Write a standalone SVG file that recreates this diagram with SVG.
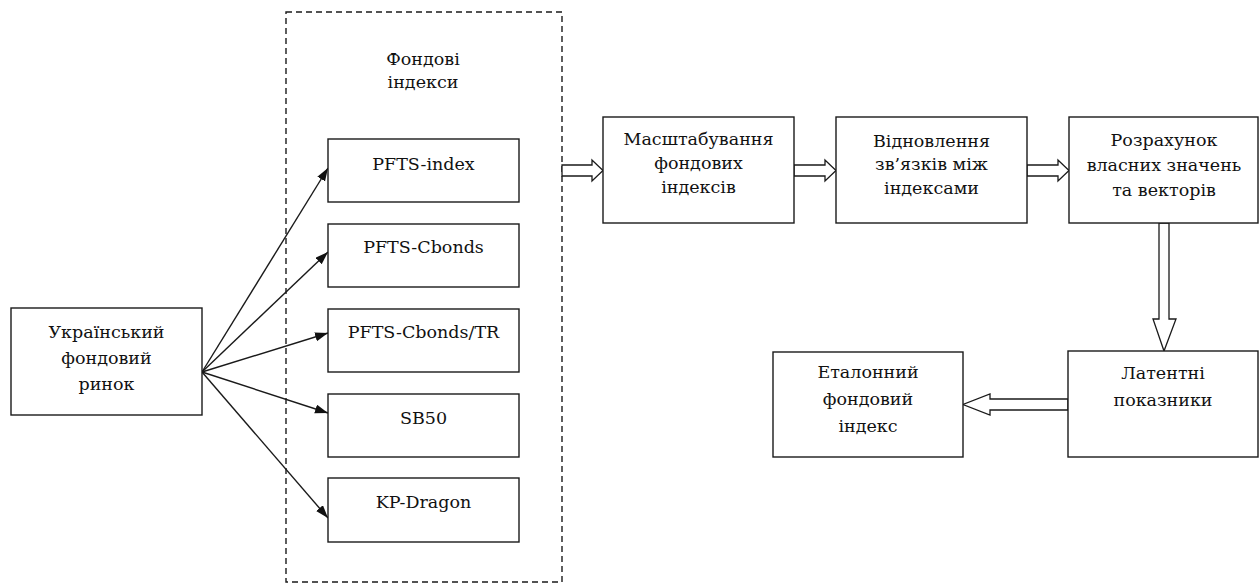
<svg xmlns="http://www.w3.org/2000/svg" width="1259" height="585" viewBox="0 0 1259 585">
<style>
.box{fill:#fff;stroke:#1a1a1a;stroke-width:1.4}
.grp{fill:none;stroke:#1a1a1a;stroke-width:1.4;stroke-dasharray:6,4}
.t{font-family:'DejaVu Serif',serif;font-size:17.5px;fill:#111;text-anchor:middle}
.ln{fill:none;stroke:#1a1a1a;stroke-width:1.4}
.blk{fill:#fff;stroke:#1a1a1a;stroke-width:1.3;stroke-linejoin:miter}
</style>
<defs>
<marker id="ah" markerUnits="userSpaceOnUse" markerWidth="14" markerHeight="10" refX="13" refY="4.5" orient="auto">
<path d="M0,0 L13,4.5 L0,9 z" fill="#111"/>
</marker>
</defs>
<rect width="1259" height="585" fill="#fff"/>
<g id="group-indices">
<rect class="grp" x="286" y="12" width="276" height="570"/>
<text class="t" x="423" y="65" font-size="17">Фондові</text>
<text class="t" x="423" y="88" font-size="17">індекси</text>
</g>
<g id="connectors">
<path class="ln" d="M202,372 L328,168" marker-end="url(#ah)"/>
<path class="ln" d="M202,372 L328,252" marker-end="url(#ah)"/>
<path class="ln" d="M202,372 L328,333" marker-end="url(#ah)"/>
<path class="ln" d="M202,372 L328,413" marker-end="url(#ah)"/>
<path class="ln" d="M202,372 L328,518" marker-end="url(#ah)"/>
<polygon class="blk" points="562,165 592,165 592,160 603,170.5 592,181 592,176 562,176"/>
<polygon class="blk" points="794,165 825,165 825,160 836,170.5 825,181 825,176 794,176"/>
<polygon class="blk" points="1027,165 1058,165 1058,160 1069,170.5 1058,181 1058,176 1027,176"/>
<polygon class="blk" points="1159,223 1159,319 1153,319 1164,351 1176,319 1169,319 1169,223"/>
<polygon class="blk" points="1068,399 990,399 990,394 963,404.5 990,415 990,410 1068,410"/>
</g>
<g id="ukr-market">
<rect class="box" x="11" y="308" width="191" height="107"/>
<text class="t" x="106.5" y="338">Український</text>
<text class="t" x="106.5" y="364">фондовий</text>
<text class="t" x="106.5" y="390">ринок</text>
</g>
<g id="pfts-index">
<rect class="box" x="328" y="139" width="191" height="63"/>
<text class="t" x="423.5" y="170">PFTS-index</text>
</g>
<g id="pfts-cbonds">
<rect class="box" x="328" y="224" width="191" height="63"/>
<text class="t" x="423.5" y="253">PFTS-Cbonds</text>
</g>
<g id="pfts-cbonds-tr">
<rect class="box" x="328" y="309" width="191" height="63"/>
<text class="t" x="423.5" y="338">PFTS-Cbonds/TR</text>
</g>
<g id="sb50">
<rect class="box" x="328" y="394" width="191" height="63"/>
<text class="t" x="423.5" y="424">SB50</text>
</g>
<g id="kp-dragon">
<rect class="box" x="328" y="478" width="191" height="64"/>
<text class="t" x="423.5" y="508">KP-Dragon</text>
</g>
<g id="scaling">
<rect class="box" x="603" y="117" width="191" height="106"/>
<text class="t" x="698.5" y="145">Масштабування</text>
<text class="t" x="698.5" y="169">фондових</text>
<text class="t" x="698.5" y="193">індексів</text>
</g>
<g id="restore">
<rect class="box" x="836" y="117" width="191" height="106"/>
<text class="t" x="931.5" y="147">Відновлення</text>
<text class="t" x="931.5" y="170">зв’язків між</text>
<text class="t" x="931.5" y="194">індексами</text>
</g>
<g id="eigen">
<rect class="box" x="1069" y="117" width="189" height="106"/>
<text class="t" x="1164" y="146">Розрахунок</text>
<text class="t" x="1164" y="171">власних значень</text>
<text class="t" x="1164" y="196">та векторів</text>
</g>
<g id="latent">
<rect class="box" x="1068" y="351" width="190" height="106"/>
<text class="t" x="1163" y="379">Латентні</text>
<text class="t" x="1163" y="406">показники</text>
</g>
<g id="reference-index">
<rect class="box" x="773" y="352" width="190" height="105"/>
<text class="t" x="868" y="378">Еталонний</text>
<text class="t" x="868" y="405">фондовий</text>
<text class="t" x="868" y="432">індекс</text>
</g>
</svg>
